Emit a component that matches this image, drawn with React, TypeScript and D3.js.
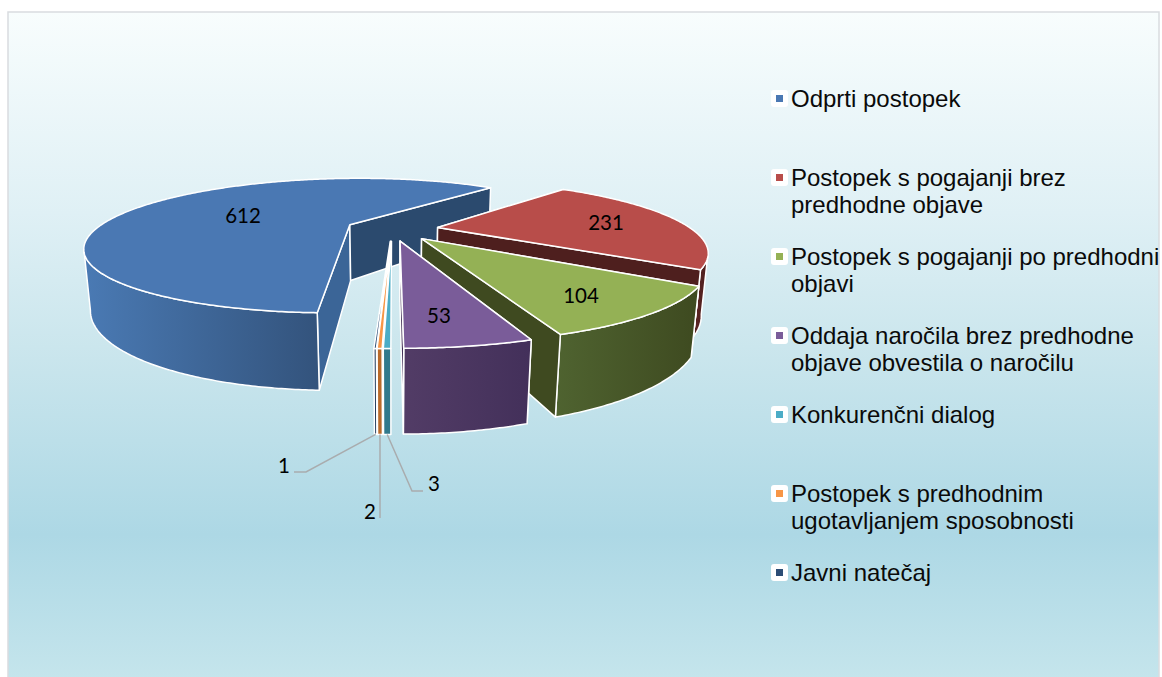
import React from 'react';
import * as d3 from 'd3';

// values, in clockwise order
const names = ['Odprti postopek', 'Postopek s pogajanji brez predhodne objave', 'Postopek s pogajanji po predhodni objavi', 'Oddaja naročila brez predhodne objave obvestila o naročilu', 'Konkurenčni dialog', 'Postopek s predhodnim ugotavljanjem sposobnosti', 'Javni natečaj'];
const legendLines = [['Odprti postopek'], ['Postopek s pogajanji brez', 'predhodne objave'], ['Postopek s pogajanji po predhodni', 'objavi'], ['Oddaja naročila brez predhodne', 'objave obvestila o naročilu'], ['Konkurenčni dialog'], ['Postopek s predhodnim', 'ugotavljanjem sposobnosti'], ['Javni natečaj']];
const values = [612, 231, 104, 53, 3, 2, 1];
const topColors = ['#4a78b3', '#b84d4a', '#94b155', '#7a5c99', '#4bacc6', '#f79646', '#2c4d75'];
const wallColors = ['#2b4a6e', '#4e1f1e', '#3f4a20', '#3c2a50', '#2f7488', '#b8682a', '#1f3a5c'];
const rimFrom = ['#4a7ab4', '#5a2423', '#4f6330', '#523c66', '#31798c', '#b96a2a', '#1f3a5c'];
const rimTo = ['#33537c', '#4e1f1e', '#3e4a20', '#43305a', '#31798c', '#b96a2a', '#1f3a5c'];
const sideColor = '#3b6597';

const W = 1162, H = 677;

// projection of the pie plane: R=1 is the pie radius
const cx = 392, cy = 229, ax = 244, ay = 61, persp = 0.303, depth = 58, shrink = 0.02;
const radius = 1.04, explode = 0.19;
const firstAngle = 182.2;

type P = [number, number];
const top = (x: number, y: number): P => {
  const w = 1 + persp * y;
  return [cx + (ax * x) / w, cy - (ay * y) / w];
};
const bottom = (x: number, y: number): P => {
  const w = 1 + persp * y + shrink;
  return [cx + (ax * x) / w, cy + (depth - ay * y) / w];
};

const pie = d3.pie<number>().sort(null).startAngle((firstAngle * Math.PI) / 180).endAngle(((firstAngle + 360) * Math.PI) / 180);
const arcs = pie(values);
const line = d3.line();
const fmt = (pts: P[]) => line(pts) + 'Z';

const slices = arcs.map((a) => {
  const mid = (a.startAngle + a.endAngle) / 2;
  const ox = explode * Math.sin(mid), oy = explode * Math.cos(mid);
  const at = (ang: number, r = radius): [number, number] => [ox + r * Math.sin(ang), oy + r * Math.cos(ang)];
  const n = Math.max(2, Math.ceil((a.endAngle - a.startAngle) / 0.01));
  const angles = d3.range(n + 1).map((i) => a.startAngle + ((a.endAngle - a.startAngle) * i) / n);
  const apex = top(ox, oy), apexB = bottom(ox, oy);
  // only the part of the rim between the two silhouette points faces the viewer
  const front = angles.filter((t) => {
    const deg = ((t * 180) / Math.PI) % 360;
    return deg > 110 && deg < 250;
  });
  const sA = at(a.startAngle), eA = at(a.endAngle);
  return {
    mid, ox, oy,
    topPath: fmt([apex, ...angles.map((t) => top(...at(t)))]),
    startWall: fmt([apex, top(...sA), bottom(...sA), apexB]),
    endWall: fmt([apex, top(...eA), bottom(...eA), apexB]),
    rim: front.length > 1 ? fmt([...front.map((t) => top(...at(t))), ...front.slice().reverse().map((t) => bottom(...at(t)))]) : null,
    foot: bottom(...at(mid)),
  };
});

// data labels
const valueLabels: { i: number; x: number; y: number }[] = [
  { i: 0, x: 243, y: 215 },
  { i: 1, x: 606, y: 222 },
  { i: 2, x: 581, y: 295 },
  { i: 3, x: 439, y: 315 },
];
const leaders: { i: number; text: string; lx: number; ly: number; pts: P[] }[] = [
  { i: 6, text: '1', lx: 284, ly: 465, pts: [[294, 472], [306, 472]] },
  { i: 5, text: '2', lx: 370, ly: 511, pts: [[380, 518]] },
  { i: 4, text: '3', lx: 434, ly: 483, pts: [[423, 491], [412, 491]] },
];

const legendY = d3.scaleLinear().domain([0, 6]).range([99, 573]);

export default function App() {
  return (
    <svg width={W} height={H} viewBox={`0 0 ${W} ${H}`} style={{ position: 'absolute', left: 0, top: 0 }}>
      <defs>
        <linearGradient id="bg" x1="0" y1="0" x2="0" y2="1">
          <stop offset="0" stopColor="#f8fdfd" />
          <stop offset="0.3" stopColor="#dff0f5" />
          <stop offset="0.5" stopColor="#cbe6ed" />
          <stop offset="0.78" stopColor="#add8e5" />
          <stop offset="1" stopColor="#c5e5ec" />
        </linearGradient>
        {slices.map((s, i) => (
          <linearGradient key={i} id={`rim${i}`} x1="0" y1="0" x2="1" y2="0">
            <stop offset="0" stopColor={rimFrom[i]} />
            <stop offset="1" stopColor={rimTo[i]} />
          </linearGradient>
        ))}
      </defs>
      <rect x={0} y={0} width={W} height={H} fill="#fff" />
      <rect x={8} y={12} width={1151} height={670} fill="url(#bg)" stroke="#d9dcdf" strokeWidth={1.5} />

      {slices.map((s, i) => (
        <g key={names[i]} stroke="#fff" strokeWidth={1.5} strokeLinejoin="round">
          {i < 4 && <path d={s.startWall} fill={i === 0 ? sideColor : wallColors[i]} />}
          {s.rim && <path d={s.rim} fill={`url(#rim${i})`} />}
          {i < 4 && <path d={s.endWall} fill={wallColors[i]} />}
          <path d={s.topPath} fill={topColors[i]} />
        </g>
      ))}

      <g fontFamily="Lato, sans-serif" fontSize={20.5} fill="#000" textAnchor="middle" dominantBaseline="central">
        {valueLabels.map((l) => (
          <text key={l.i} x={l.x} y={l.y}>{values[l.i]}</text>
        ))}
        {leaders.map((l) => (
          <text key={l.i} x={l.lx} y={l.ly}>{values[l.i]}</text>
        ))}
      </g>
      {leaders.map((l) => (
        <path key={l.i} d={line([...l.pts, slices[l.i].foot]) as string} fill="none" stroke="#a9acae" strokeWidth={1.5} />
      ))}

      <g fontFamily="'Liberation Sans', Arial, sans-serif" fontSize={24} fill="#0a0a0a">
        {legendLines.map((rows, i) => (
          <g key={i} transform={`translate(0,${legendY(i)})`}>
            <rect x={771} y={-9} width={17} height={17} rx={3} fill="#fff" />
            <rect x={776} y={-4} width={7} height={7} fill={topColors[i]} />
            {rows.map((t, j) => (
              <text key={j} x={791} y={8 + j * 27}>{t}</text>
            ))}
          </g>
        ))}
      </g>
    </svg>
  );
}
